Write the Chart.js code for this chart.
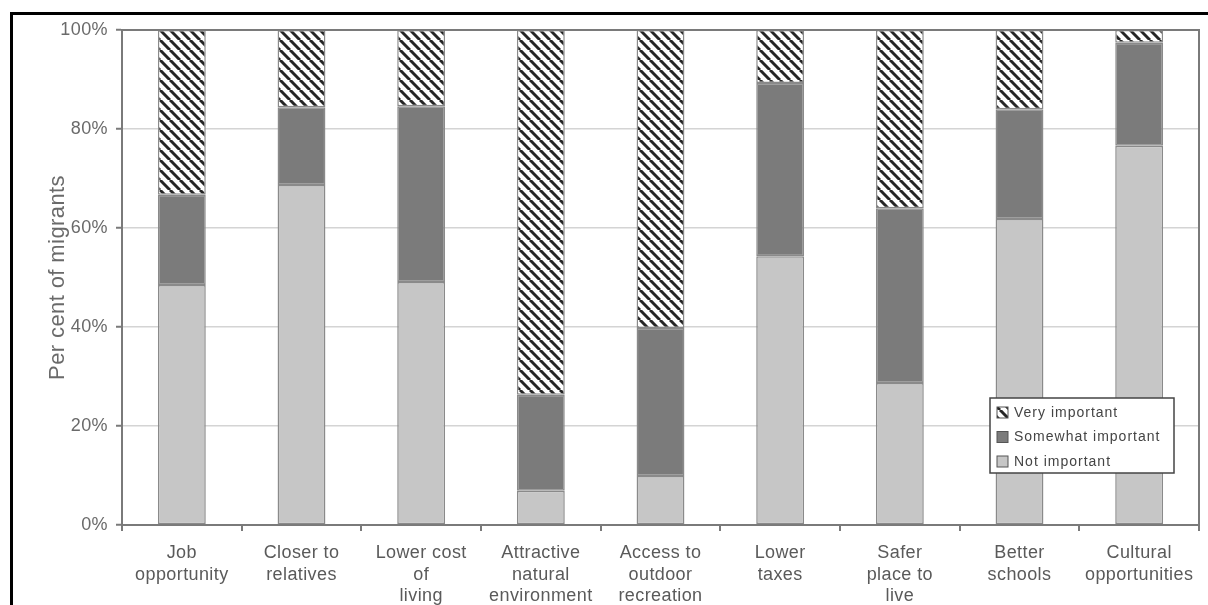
<!DOCTYPE html>
<html>
<head>
<meta charset="utf-8">
<script src="https://cdn.jsdelivr.net/npm/chart.js@4.4.0/dist/chart.umd.min.js"></script>
<style>
  html, body { margin: 0; padding: 0; background: #fff; }
  #wrap { position: relative; width: 1208px; height: 605px; overflow: hidden; }
  #frame { position: absolute; left: 10px; top: 12px; width: 1300px; height: 700px;
           border-top: 3px solid #000; border-left: 3px solid #000; pointer-events: none; }
  canvas { position: absolute; left: 0; top: 0; }
</style>
</head>
<body>
<div id="wrap">
  <canvas id="chart" width="1208" height="605"></canvas>
  <div id="frame"></div>
</div>
<script>
// reasons for moving, share of migrants (%)
const categories = [
  ["Job", "opportunity"],
  ["Closer to", "relatives"],
  ["Lower cost", "of", "living"],
  ["Attractive", "natural", "environment"],
  ["Access to", "outdoor", "recreation"],
  ["Lower", "taxes"],
  ["Safer", "place to", "live"],
  ["Better", "schools"],
  ["Cultural", "opportunities"]
];
const notImportant      = [48.5, 68.7, 49.1, 6.9, 9.9, 54.3, 28.7, 61.8, 76.6];
const somewhatImportant = [18.2, 15.7, 35.5, 19.4, 29.9, 35.0, 35.3, 22.2, 20.8];
const veryImportant     = [33.3, 15.6, 15.4, 73.7, 60.2, 10.7, 36.0, 16.0, 2.6];
const yTicks = [0, 20, 40, 60, 80, 100];

const FONT = "'Liberation Sans', Arial, sans-serif";

// white with black "\" stripes
function hatch() {
  const s = 10;
  const c = document.createElement("canvas");
  c.width = s; c.height = s;
  const g = c.getContext("2d");
  g.fillStyle = "#fff";
  g.fillRect(0, 0, s, s);
  g.strokeStyle = "#262626";
  g.lineWidth = 3;
  for (let k = -1; k <= 1; k++) {
    g.beginPath();
    g.moveTo(k * s, 0);
    g.lineTo(k * s + s, s);
    g.stroke();
  }
  return g.createPattern(c, "repeat");
}
const hatchFill = hatch();

// the scanned type is a touch wide
const spacing = {
  id: "spacing",
  beforeUpdate(chart) { chart.ctx.letterSpacing = "0.4px"; },
  beforeDraw(chart) { chart.ctx.letterSpacing = "0.4px"; }
};

// legend box drawn inside the plot, plus the plot frame
const boxPlugin = {
  id: "boxPlugin",
  afterDatasetsDraw(chart) {
    const ctx = chart.ctx;
    const a = chart.chartArea;
    ctx.save();
    ctx.strokeStyle = "#7a7a7a";
    ctx.lineWidth = 2;
    ctx.beginPath();
    ctx.moveTo(a.left, a.top);
    ctx.lineTo(a.right, a.top);
    ctx.lineTo(a.right, a.bottom);
    ctx.stroke();

    const x = 990, y = 398, w = 184, h = 75;
    ctx.fillStyle = "#fff";
    ctx.fillRect(x, y, w, h);
    ctx.strokeStyle = "#444";
    ctx.lineWidth = 1.5;
    ctx.strokeRect(x, y, w, h);
    const ds = chart.data.datasets.slice().reverse();
    ctx.font = "14px " + FONT;
    ctx.letterSpacing = "1px";
    ctx.textBaseline = "middle";
    ds.forEach((d, i) => {
      const cy = y + 14 + i * 24.5;
      ctx.fillStyle = d.backgroundColor;
      ctx.fillRect(x + 7, cy - 5, 11, 11);
      ctx.strokeStyle = "#555";
      ctx.lineWidth = 1;
      ctx.strokeRect(x + 7, cy - 5, 11, 11);
      ctx.fillStyle = "#444";
      ctx.fillText(d.label, x + 24, cy + 1);
    });
    ctx.restore();
  }
};

new Chart(document.getElementById("chart"), {
  type: "bar",
  data: {
    labels: categories,
    datasets: [
      { label: "Not important", data: notImportant, backgroundColor: "#c6c6c6" },
      { label: "Somewhat important", data: somewhatImportant, backgroundColor: "#7b7b7b" },
      { label: "Very important", data: veryImportant, backgroundColor: hatchFill }
    ].map(d => Object.assign(d, {
      borderColor: "#8a8a8a",
      borderWidth: 1.5,
      borderSkipped: false,
      barPercentage: 0.4,
      categoryPercentage: 1.0
    }))
  },
  options: {
    responsive: false,
    animation: false,
    layout: { padding: { left: 0, top: 30, right: 9, bottom: 0 } },
    plugins: { legend: { display: false }, tooltip: { enabled: false } },
    scales: {
      x: {
        stacked: true,
        afterFit(scale) { scale.height = 80; },
        border: { color: "#7a7a7a", width: 2 },
        grid: { offset: true, drawOnChartArea: false, tickLength: 6, color: "#7a7a7a", lineWidth: 2 },
        ticks: { color: "#5a5a5a", font: { family: FONT, size: 18, lineHeight: 1.17 }, padding: 12, maxRotation: 0, autoSkip: false }
      },
      y: {
        stacked: true,
        min: 0,
        max: 100,
        afterFit(scale) { scale.width = 122; },
        afterBuildTicks(scale) { scale.ticks = yTicks.map(v => ({ value: v })); },
        border: { color: "#7a7a7a", width: 2 },
        grid: { color: "#d4d4d4", lineWidth: 1.5, tickLength: 6, tickColor: "#7a7a7a", tickWidth: 2 },
        ticks: { color: "#6a6a6a", font: { family: FONT, size: 18 }, padding: 8, callback: v => v + "%" },
        title: { display: true, text: "Per cent of migrants", color: "#6a6a6a",
                 font: { family: FONT, size: 22 }, padding: { top: 45, bottom: 0 } }
      }
    }
  },
  plugins: [spacing, boxPlugin]
});
</script>
</body>
</html>
